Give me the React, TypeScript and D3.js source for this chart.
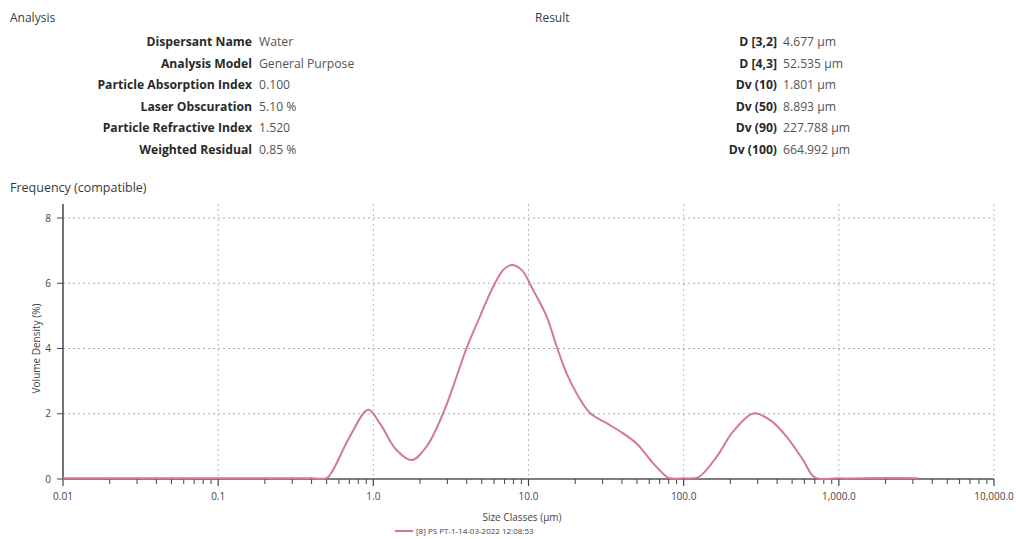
import React from "react";
import * as d3 from "d3";

const sizes = [0.01, 0.02, 0.05, 0.1, 0.2, 0.4, 0.502, 0.55, 0.706, 0.927, 1.10, 1.41, 1.77, 2.20, 2.82, 3.44, 3.99, 4.86, 5.93, 6.88, 7.78, 9.03, 10.7, 13.1, 15.2, 17.6, 20.4, 24.9, 31.9, 40.7, 49.7, 63.6, 77.6, 81.5, 100, 124, 163, 208, 281, 359, 460, 589, 700, 1000, 2000, 3240];
const density = [0.02, 0.02, 0.02, 0.02, 0.02, 0.02, 0.03, 0.28, 1.30, 2.12, 1.71, 0.89, 0.58, 0.99, 2.02, 3.14, 4.01, 4.98, 5.90, 6.41, 6.56, 6.41, 5.80, 4.98, 4.06, 3.24, 2.63, 2.02, 1.71, 1.40, 1.09, 0.48, 0.07, 0.02, 0.02, 0.05, 0.68, 1.45, 2.01, 1.81, 1.30, 0.58, 0.05, 0.02, 0.03, 0.02];

const xTicks = [0.01, 0.1, 1, 10, 100, 1000, 10000];
const xTickLabels = ["0.01", "0.1", "1.0", "10.0", "100.0", "1,000.0", "10,000.0"];
const yTicks = [0, 2, 4, 6, 8];

const analysisLabels = ["Dispersant Name", "Analysis Model", "Particle Absorption Index", "Laser Obscuration", "Particle Refractive Index", "Weighted Residual"];
const analysisValues = ["Water", "General Purpose", "0.100", "5.10 %", "1.520", "0.85 %"];
const resultLabels = ["D [3,2]", "D [4,3]", "Dv (10)", "Dv (50)", "Dv (90)", "Dv (100)"];
const resultValues = ["4.677 µm", "52.535 µm", "1.801 µm", "8.893 µm", "227.788 µm", "664.992 µm"];

const seriesName = "[8] PS PT-1-14-03-2022 12:08:53";

export default function App() {
  const W = 1016, H = 539;
  const x = d3.scaleLog().domain([0.01, 10000]).range([63, 994]);
  const y = d3.scaleLinear().domain([0, 8]).range([479, 218]);
  const top = 204;
  const font = "'Open Sans', 'Noto Sans', sans-serif";
  const textCol = "#3a3a3a";
  const lineCol = "#d4789a";

  const pts = sizes.map((s, i) => [s, density[i]] as [number, number]);
  const line = d3.line<[number, number]>().x(d => x(d[0])).y(d => y(d[1])).curve(d3.curveCatmullRom.alpha(0.5));

  const minor: number[] = [];
  for (let e = -2; e < 4; e++) for (let m = 2; m <= 9; m++) minor.push(m * Math.pow(10, e));

  const rowY = (i: number) => 42 + i * 21.6;

  return (
    <svg width={W} height={H} style={{ position: "absolute", left: 0, top: 0, background: "#fff" }} fontFamily={font}>
      <rect width={W} height={H} fill="#fff" />
      <text x={10} y={22} fontSize={12} fill={textCol}>Analysis</text>
      <text x={535} y={22} fontSize={12} fill={textCol}>Result</text>
      {analysisLabels.map((l, i) => (
        <g key={l}>
          <text x={252} y={rowY(i) + 4} fontSize={12.2} fontWeight="bold" textAnchor="end" fill="#2a2a2a">{l}</text>
          <text x={259} y={rowY(i) + 4} fontSize={12.2} fill="#555">{analysisValues[i]}</text>
        </g>
      ))}
      {resultLabels.map((l, i) => (
        <g key={l}>
          <text x={777} y={rowY(i) + 4} fontSize={12.2} fontWeight="bold" textAnchor="end" fill="#2a2a2a">{l}</text>
          <text x={783} y={rowY(i) + 4} fontSize={12.2} fill="#555">{resultValues[i]}</text>
        </g>
      ))}
      <text x={10} y={192} fontSize={12.5} fill={textCol}>Frequency (compatible)</text>

      {yTicks.filter(t => t > 0).map(t => (
        <line key={"gy" + t} x1={63} x2={994} y1={y(t)} y2={y(t)} stroke="#aaa" strokeWidth={1} strokeDasharray="2,3" />
      ))}
      {xTicks.slice(1).map(t => (
        <line key={"gx" + t} x1={x(t)} x2={x(t)} y1={top} y2={479} stroke="#bbb" strokeWidth={1} strokeDasharray="2,3" />
      ))}

      <line x1={63} x2={63} y1={top} y2={479} stroke="#444" strokeWidth={1.5} />
      <line x1={63} x2={994} y1={479} y2={479} stroke="#555" strokeWidth={1.3} />
      {yTicks.map(t => (
        <g key={"yt" + t}>
          <line x1={57} x2={63} y1={y(t)} y2={y(t)} stroke="#444" strokeWidth={1} />
          <text x={51} y={y(t) + 3.5} fontSize={10} textAnchor="end" fill="#444">{t}</text>
        </g>
      ))}
      {minor.map(t => (
        <line key={"mt" + t} x1={x(t)} x2={x(t)} y1={479} y2={484} stroke="#444" strokeWidth={1} />
      ))}
      {xTicks.map((t, i) => (
        <g key={"xt" + t}>
          <line x1={x(t)} x2={x(t)} y1={479} y2={486} stroke="#444" strokeWidth={1.2} />
          <text x={x(t)} y={500} fontSize={10} textAnchor="middle" fill="#444">{xTickLabels[i]}</text>
        </g>
      ))}

      <text transform={`translate(40,${y(4)}) rotate(-90)`} fontSize={10} textAnchor="middle" fill="#444">Volume Density (%)</text>
      <text x={522} y={521} fontSize={10} textAnchor="middle" fill="#444">Size Classes (µm)</text>

      <path d={line(pts) || ""} fill="none" stroke={lineCol} strokeWidth={2} />

      <line x1={395} x2={413} y1={531} y2={531} stroke={lineCol} strokeWidth={2} />
      <text x={416} y={534} fontSize={8} fill="#444">{seriesName}</text>
    </svg>
  );
}
